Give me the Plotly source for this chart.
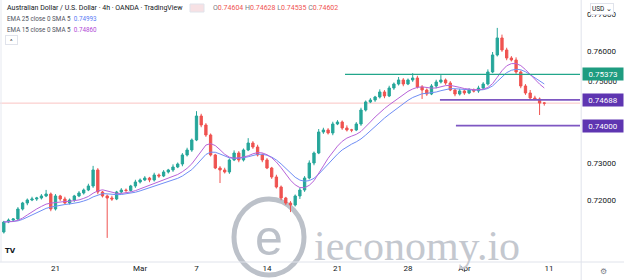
import plotly.graph_objects as go

# ---------------- data ----------------
first_open = 0.71147
closes = [
    0.71415, 0.71469, 0.71496, 0.71764, 0.71925, 0.72005, 0.72032, 0.72059, 0.72113, 0.72166,
    0.71764, 0.72113, 0.72032, 0.71925, 0.72005, 0.72113, 0.72193, 0.72273, 0.72381, 0.72810,
    0.72220, 0.72113, 0.72059, 0.72032, 0.72220, 0.72273, 0.72260, 0.72381, 0.72488, 0.72542,
    0.72595, 0.72542, 0.72676, 0.72649, 0.72756, 0.72810, 0.72890, 0.72970, 0.73212, 0.73346,
    0.73614, 0.74257, 0.74016, 0.73748, 0.73212, 0.72863, 0.72810, 0.72756, 0.73078, 0.73265,
    0.73078, 0.73346, 0.73533, 0.73426, 0.73212, 0.73078, 0.72863, 0.72622, 0.72354, 0.72059,
    0.71925, 0.71871, 0.72113, 0.72273, 0.72595, 0.72997, 0.73265, 0.73828, 0.73882, 0.73802,
    0.74043, 0.74096, 0.73936, 0.73882, 0.73882, 0.74043, 0.74418, 0.74633, 0.74686, 0.74767,
    0.74901, 0.74794, 0.75008, 0.75115, 0.75223, 0.75115, 0.75223, 0.75276, 0.75035, 0.74954,
    0.74847, 0.75062, 0.75169, 0.75223, 0.75142, 0.74954, 0.74847, 0.74928, 0.74874, 0.74954,
    0.74928, 0.75008, 0.75115, 0.75437, 0.75893, 0.76349, 0.76027, 0.75812, 0.75759, 0.75437,
    0.75062, 0.74874, 0.74740, 0.74713, 0.74604, 0.74602,
]
# upper / lower wick lengths in pips
wick_up_pips = [
    3, 4, 2, 5, 3, 4, 6, 3, 5, 11,
    4, 5, 3, 6, 4, 3, 5, 4, 6, 11,
    5, 3, 4, 6, 3, 5, 4, 3, 6, 4,
    5, 3, 6, 4, 5, 3, 7, 4, 5, 6,
    4, 13, 6, 5, 4, 3, 5, 6, 4, 7,
    5, 4, 13, 5, 6, 4, 5, 3, 6, 4,
    3, 5, 4, 6, 5, 7, 4, 8, 6, 5,
    6, 5, 4, 7, 3, 5, 6, 4, 5, 3,
    7, 5, 6, 4, 8, 5, 4, 13, 6, 5,
    4, 5, 6, 13, 4, 5, 3, 6, 4, 5,
    4, 6, 5, 7, 8, 27, 9, 6, 5, 7,
    4, 5, 8, 6, 4, 2.4,
]
wick_dn_pips = [
    4, 3, 5, 3, 4, 6, 3, 5, 4, 3,
    6, 4, 5, 3, 4, 5, 3, 4, 3, 5,
    6, 4, 107, 5, 3, 4, 6, 3, 5, 4,
    3, 6, 4, 5, 3, 4, 5, 3, 6, 4,
    5, 3, 6, 5, 4, 3, 35, 4, 5, 3,
    6, 4, 3, 5, 4, 6, 3, 5, 4, 6,
    5, 19, 4, 8, 5, 4, 6, 3, 5, 4,
    6, 3, 5, 4, 6, 3, 5, 4, 3, 5,
    4, 6, 3, 5, 4, 6, 3, 5, 4, 24,
    5, 3, 6, 4, 5, 3, 6, 4, 5, 3,
    4, 5, 3, 4, 3, 4, 5, 6, 4, 5,
    6, 5, 4, 3, 32, 6.7,
]
date_tick_idx = [11, 29, 41, 56, 71, 86, 98, 116]
date_tick_text = ["21", "Mar", "7", "14", "21", "28", "Apr", "11"]
price_ticks = [0.77, 0.76, 0.73, 0.72]
level_prices = [0.75373, 0.74688, 0.74000]
level_start_idx = [72.6, 92.8, 96.2]
level_colors = ["#22a68b", "#7e57c2", "#7e57c2"]
level_widths = [1.2, 1.8, 1.8]
label_colors = ["#1e9c80", "#5e35b1", "#5e35b1"]
last_price = 0.74602
ema_blue_value = "0.74993"
ema_purple_value = "0.74860"

# ---------------- derived ----------------
n = len(closes)
assert len(wick_up_pips) == n and len(wick_dn_pips) == n
idx = list(range(n))
opens = [first_open] + closes[:-1]
highs = [max(o, c) + u * 0.0001 for o, c, u in zip(opens, closes, wick_up_pips)]
lows = [min(o, c) - d * 0.0001 for o, c, d in zip(opens, closes, wick_dn_pips)]


def ema(vals, length):
    a = 2.0 / (length + 1)
    out = [vals[0]]
    for v in vals[1:]:
        out.append(a * v + (1 - a) * out[-1])
    return out


def sma(vals, length):
    out = []
    for i in range(len(vals)):
        w = vals[max(0, i - length + 1):i + 1]
        out.append(sum(w) / len(w))
    return out


# 4h EMA25 / EMA15 smoothed by SMA5, rescaled to the 8h bars used here
ema_blue = sma(ema(closes, 13), 3)
ema_purple = sma(ema(closes, 8), 3)

UP = "#26a69a"
DN = "#ef5350"
TXT = "#131722"

PLOT_W, PLOT_H = 580, 262
X_RANGE = [-0.81, 122.6]
Y_RANGE = [0.70343, 0.77367]


def px(x):
    return x / PLOT_W


def py(y):
    return 1 - y / PLOT_H


fig = go.Figure()
fig.add_trace(go.Candlestick(
    x=idx, open=opens, high=highs, low=lows, close=closes,
    increasing=dict(line=dict(color=UP, width=1), fillcolor=UP),
    decreasing=dict(line=dict(color=DN, width=1), fillcolor=DN),
    whiskerwidth=0, showlegend=False, hoverinfo="skip",
))
fig.add_trace(go.Scatter(x=idx, y=ema_blue, mode="lines",
                         line=dict(color="#6f8ef5", width=1), showlegend=False, hoverinfo="skip"))
fig.add_trace(go.Scatter(x=idx, y=ema_purple, mode="lines",
                         line=dict(color="#b763d8", width=1), showlegend=False, hoverinfo="skip"))

shapes = []
# watermark ring (drawn first, below the data)
shapes.append(dict(type="circle", xref="paper", yref="paper",
                   x0=px(234), x1=px(304), y0=py(275), y1=py(199),
                   line=dict(color="#bcc1c9", width=5), layer="below"))
# last price line
shapes.append(dict(type="line", xref="paper", yref="y", x0=0, x1=1, y0=last_price, y1=last_price,
                   line=dict(color="rgba(239,83,80,0.35)", width=1), layer="below"))
# horizontal levels
for p, s, c, w in zip(level_prices, level_start_idx, level_colors, level_widths):
    shapes.append(dict(type="line", xref="x", yref="y", x0=s, x1=X_RANGE[1], y0=p, y1=p,
                       line=dict(color=c, width=w)))
# separators
shapes.append(dict(type="line", xref="paper", yref="paper", x0=1.002, x1=1.002, y0=py(280), y1=1,
                   line=dict(color="#e0e3eb", width=1)))
shapes.append(dict(type="line", xref="paper", yref="paper", x0=0, x1=px(624), y0=0, y1=0,
                   line=dict(color="#e0e3eb", width=1)))
shapes.append(dict(type="line", xref="paper", yref="paper", x0=px(1), x1=px(1), y0=0, y1=1,
                   line=dict(color="#e6e9f0", width=1)))
# small pill icon next to title
shapes.append(dict(type="rect", xref="paper", yref="paper", x0=px(190), x1=px(204), y0=py(12), y1=py(4),
                   line=dict(color="#e0e3eb", width=1), fillcolor="#f7e1e4"))

ann = []
# watermark text
ann.append(dict(x=px(269), y=py(238), xref="paper", yref="paper", xanchor="center", yanchor="middle",
                showarrow=False, font=dict(size=50, color="#bcc1c9", family="Liberation Sans"), text="e"))
ann.append(dict(x=px(417), y=py(246), xref="paper", yref="paper", xanchor="center", yanchor="middle",
                showarrow=False, font=dict(size=42, color="#c4c8cf", family="Liberation Sans Narrow"),
                text="ieconomy.io"))
ann.append(dict(x=px(5), y=py(8), xref="paper", yref="paper", xanchor="left", yanchor="middle",
                showarrow=False, font=dict(size=7, color=TXT),
                text="Australian Dollar / U.S. Dollar · 4h · OANDA · TradingView"))
ohlc = "O<span style='color:#ef5350'>0.74604</span> H<span style='color:#ef5350'>0.74628</span> " \
       "L<span style='color:#ef5350'>0.74535</span> C<span style='color:#ef5350'>0.74602</span>"
ann.append(dict(x=px(211), y=py(8), xref="paper", yref="paper", xanchor="left", yanchor="middle",
                showarrow=False, font=dict(size=7, color="#787b86"), text=ohlc))
ann.append(dict(x=px(5), y=py(19), xref="paper", yref="paper", xanchor="left", yanchor="middle",
                showarrow=False, font=dict(size=6.3, color="#50535e"),
                text="EMA 25 close 0 SMA 5  <span style='color:#5b7cf5'>" + ema_blue_value + "</span>"))
ann.append(dict(x=px(5), y=py(29.5), xref="paper", yref="paper", xanchor="left", yanchor="middle",
                showarrow=False, font=dict(size=6.3, color="#50535e"),
                text="EMA 15 close 0 SMA 5  <span style='color:#b04ad6'>" + ema_purple_value + "</span>"))
ann.append(dict(x=px(11.5), y=py(40), xref="paper", yref="paper", xanchor="center", yanchor="middle",
                showarrow=False, font=dict(size=6, color=TXT), text="^",
                bordercolor="#e0e3eb", borderwidth=1, bgcolor="white", width=9, height=6))
# tick label displaced by the level labels
ann.append(dict(x=1, y=py(82), xref="paper", yref="paper", xanchor="left", yanchor="middle",
                xshift=6, showarrow=False, font=dict(size=8, color=TXT), text="0.75000"))
# price labels on the right
for p, c in zip(level_prices, label_colors):
    ann.append(dict(x=1, y=p, xref="paper", yref="y", xanchor="left", yanchor="middle",
                    xshift=1.5, showarrow=False, font=dict(size=8, color="white"),
                    text="%.5f" % p, bgcolor=c, width=38, height=10))
ann.append(dict(x=px(602), y=py(9.5), xref="paper", yref="paper", xanchor="center", yanchor="middle",
                showarrow=False, font=dict(size=6.5, color=TXT), text="USD ⌄",
                bgcolor="white", bordercolor="#e0e3eb", borderwidth=1, height=8))
ann.append(dict(x=px(603), y=py(271), xref="paper", yref="paper", xanchor="center", yanchor="middle",
                showarrow=False, font=dict(size=8, color="#787b86"), text="⚙"))
ann.append(dict(x=px(10), y=py(251), xref="paper", yref="paper", xanchor="center", yanchor="middle",
                showarrow=False, font=dict(size=7, color=TXT, family="DejaVu Sans"), text="<b>TV</b>"))

fig.update_layout(
    width=624, height=280,
    margin=dict(l=0, r=44, t=0, b=18),
    paper_bgcolor="white", plot_bgcolor="white",
    font=dict(family="Roboto, Liberation Sans, sans-serif", color=TXT),
    showlegend=False,
    shapes=shapes, annotations=ann,
    xaxis=dict(range=X_RANGE, tickmode="array", tickvals=date_tick_idx, ticktext=date_tick_text,
               showgrid=False, zeroline=False, showline=False, ticks="",
               tickfont=dict(size=8, color=TXT), rangeslider=dict(visible=False), fixedrange=True),
    yaxis=dict(range=Y_RANGE, side="right", tickmode="array", tickvals=price_ticks,
               ticktext=["%.5f" % v for v in price_ticks], showgrid=False, zeroline=False,
               showline=False, ticks="", ticklabelstandoff=6,
               tickfont=dict(size=8, color=TXT), fixedrange=True),
)

fig.write_html("out.html")
